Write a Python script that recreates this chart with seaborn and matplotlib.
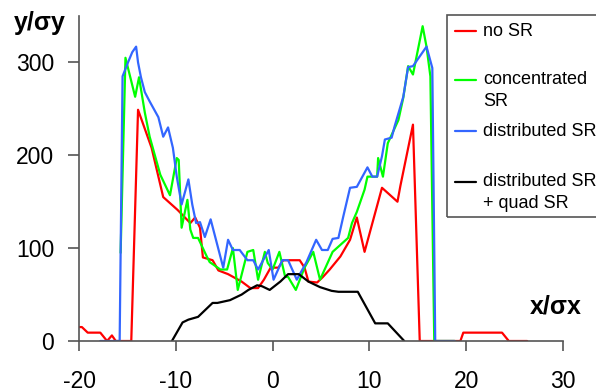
import numpy as np
import pandas as pd
import seaborn as sns
import matplotlib.pyplot as plt
from matplotlib.lines import Line2D
from matplotlib.patches import Rectangle

# beam profiles (x in sigma_x, y in sigma_y units)
no_sr_x = [-20, -19.7, -19.1, -17.8, -17.1, -16.6, -16.2, -14.6, -13.9, -12.5, -11.3, -9.8,
           -8.5, -8.0, -7.5, -7.2, -6.2, -5.6, -4.6, -3.2, -2.3, -1.5, -0.9, -0.2, 0.6, 1.1,
           2.8, 3.3, 3.7, 4.6, 5.2, 5.9, 7.0, 8.0, 8.7, 9.5, 11.3, 12.9, 13.2, 14.5, 15.2,
           19.4, 19.7, 23.7, 24.4, 26.3]
no_sr_y = [15, 15, 9, 9, 0, 6, 0, 0, 249, 208, 155, 141,
           127, 133, 122, 90, 87, 76, 72, 64, 57, 57, 66, 79, 79, 87,
           87, 79, 64, 63, 69, 77, 91, 109, 133, 96, 165, 150, 167, 233, 0,
           0, 9, 9, 0, 0]

conc_x = [-15.7, -15.2, -14.2, -13.8, -13.2, -12.7, -11.6, -10.6, -9.9, -9.7, -9.4, -8.8,
          -8.5, -8.2, -7.7, -6.8, -6.5, -5.4, -4.7, -4.1, -3.6, -2.6, -2.0, -1.5, -0.8,
          -0.5, 0.0, 0.7, 1.3, 1.6, 2.4, 3.3, 4.2, 4.9, 6.2, 7.8, 8.2, 8.7, 9.5, 9.8, 10.8,
          10.9, 11.4, 11.9, 13.0, 13.5, 14.0, 14.5, 15.5, 15.9, 16.3, 16.7, 18.8]
conc_y = [95, 305, 263, 284, 246, 220, 179, 157, 197, 195, 122, 152,
          120, 111, 111, 91, 85, 77, 77, 100, 55, 96, 98, 66, 96,
          84, 77, 96, 69, 69, 55, 79, 96, 66, 96, 111, 127, 139, 163, 177, 177,
          197, 177, 213, 238, 262, 296, 287, 339, 317, 285, 0, 0]

dist_x = [-17.8, -15.8, -15.5, -14.9, -14.5, -14.1, -13.9, -13.6, -13.2, -12.7, -11.8, -11.3,
          -10.8, -10.3, -9.9, -9.4, -8.7, -8.3, -7.9, -7.5, -7.0, -6.4, -5.1, -4.6, -4.1,
          -3.4, -2.6, -2.0, -1.5, -0.4, 0.1, 1.0, 1.6, 2.5, 3.5, 4.5, 5.1, 5.7, 6.2, 6.8,
          7.3, 8.0, 8.7, 9.8, 10.3, 10.8, 11.3, 11.6, 12.3, 12.6, 13.5, 14.0, 14.5, 15.9,
          16.5, 16.8, 18.8]
dist_y = [0, 0, 285, 301, 311, 317, 300, 284, 268, 258, 241, 220,
          230, 208, 177, 147, 174, 147, 127, 128, 112, 131, 79, 109, 98,
          98, 87, 87, 77, 98, 66, 87, 87, 66, 85, 109, 98, 98, 110, 111,
          134, 165, 166, 187, 177, 177, 199, 217, 219, 231, 263, 295, 296, 317,
          294, 0, 0]

quad_x = [-10.4, -9.3, -8.7, -7.7, -6.2, -5.7, -4.4, -3.2, -2.5, -1.6, -1.1, -0.3, 0.8,
          1.6, 2.7, 3.7, 4.9, 6.1, 6.8, 8.8, 10.6, 11.9, 13.6]
quad_y = [0, 20, 23, 26, 41, 41, 44, 50, 55, 60, 59, 55, 64,
          72, 72, 64, 58, 54, 53, 53, 19, 19, 0]

labels = ['no SR', 'concentrated\nSR', 'distributed SR', 'distributed SR\n+ quad SR']
colors = ['#ff0000', '#00ff00', '#3366ff', '#000000']
series = [(no_sr_x, no_sr_y), (conc_x, conc_y), (dist_x, dist_y), (quad_x, quad_y)]

sns.set_style('white')
plt.rcParams['font.family'] = ['Liberation Sans', 'DejaVu Sans']
plt.rcParams['axes.unicode_minus'] = False
plt.rcParams['text.color'] = 'black'
plt.rcParams['xtick.labelcolor'] = 'black'
plt.rcParams['ytick.labelcolor'] = 'black'

W, H = 596, 392
fig = plt.figure(figsize=(W / 100, H / 100), dpi=100)
ax = fig.add_axes([79 / W, 1 - 341 / H, (563 - 79) / W, (341 - 16) / H])

for (xs, ys), c in zip(series, colors):
    df = pd.DataFrame({'x': xs, 'y': ys})
    sns.lineplot(data=df, x='x', y='y', ax=ax, color=c, lw=1.6,
                 estimator=None, sort=False)

ax.set_xlim(-20, 30)
ax.set_ylim(0, 350)
ax.set_xticks([-20, -10, 0, 10, 20, 30])
ax.set_yticks([0, 100, 200, 300])
ax.set_xlabel('')
ax.set_ylabel('')
for s in ['top', 'right']:
    ax.spines[s].set_visible(False)
for s in ['left', 'bottom']:
    ax.spines[s].set_color('#555555')
    ax.spines[s].set_linewidth(1.2)
ax.tick_params(axis='x', direction='out', length=7, width=1.2, color='#555555',
               labelsize=16.5, pad=14, bottom=True)
ax.tick_params(axis='y', direction='out', length=8, width=1.2, color='#555555',
               labelsize=16.5, pad=10, left=True)

fig.text(40 / W, 1 - 23 / H, 'y/σy', fontsize=18, fontweight='bold',
         ha='center', va='center')
fig.text(556 / W, 1 - 306 / H, 'x/σx', fontsize=18, fontweight='bold',
         ha='center', va='center')

# legend box, drawn by hand so each marker sits on the first text line
fig.add_artist(Rectangle((447 / W, 1 - 217 / H), 0.3, (217 - 15) / H,
                         transform=fig.transFigure, fill=False,
                         edgecolor='#555555', lw=1.2))
rows = [31, 80, 131, 182]
for lab, c, py in zip(labels, colors, rows):
    fig.add_artist(Line2D([455 / W, 476 / W], [1 - py / H, 1 - py / H],
                          transform=fig.transFigure, color=c, lw=1.6))
    for i, line in enumerate(lab.split('\n')):
        fig.text(483 / W, 1 - (py + 22 * i) / H, line, fontsize=13,
                 ha='left', va='center')

fig.savefig('out.png', dpi=100)
